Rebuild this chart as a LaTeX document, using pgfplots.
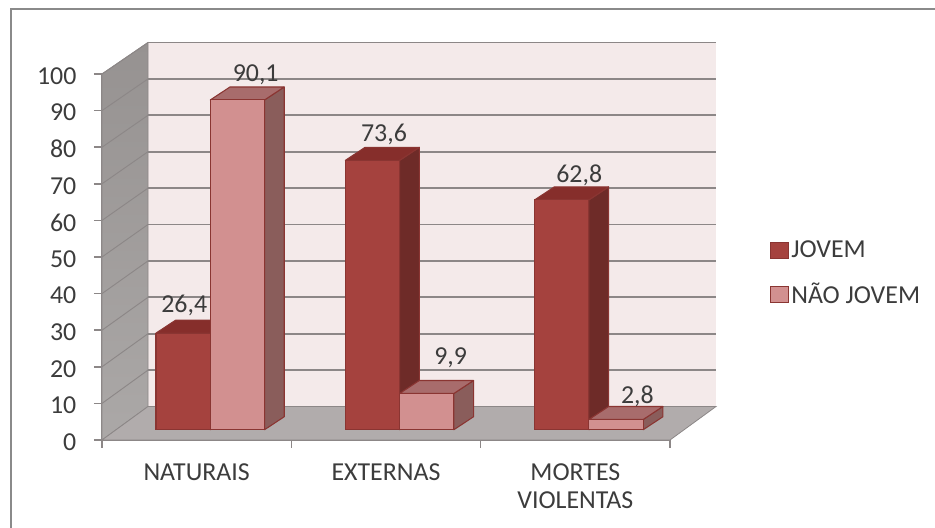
\documentclass[border=0pt]{standalone}
\usepackage{pgfplots}
\usepackage{pgfplotstable}
\usepackage{fontspec}
\setmainfont{Carlito}
\pgfplotsset{compat=1.18}

\definecolor{jovemfront}{HTML}{A5423E}
\definecolor{jovemside}{HTML}{6E2B28}
\definecolor{jovemtop}{HTML}{862E2B}
\definecolor{naofront}{HTML}{D29090}
\definecolor{naoside}{HTML}{8A5D5B}
\definecolor{naotop}{HTML}{A86C6C}
\definecolor{edgej}{HTML}{8A3532}
\definecolor{wallback}{HTML}{F4EAEA}
\definecolor{floorc}{HTML}{B1ACAC}
\definecolor{walltop}{HTML}{969291}
\definecolor{wallbottom}{HTML}{ABA8A7}
\definecolor{gridc}{HTML}{8C8787}
\definecolor{inkc}{HTML}{3C3C3C}
\definecolor{framec}{HTML}{8A8A8A}

% values per cause of death
\pgfplotstableread{
x    jovem naojovem
0.5  26.4  90.1
1.5  73.6  9.9
2.5  62.8  2.8
}\causes

% value labels: position of the bar and offset of the label in pt
\pgfplotstableread{
x      v     dx    dy
0.3563 26.4  11.1  28.8
0.6437 90.1  23.85 26.4
1.3563 73.6  18.9  26.9
1.6437 9.9   28.1  34.35
2.3563 62.8  23.3  26.3
2.6437 2.8   26.1  25.35
}\valuelabels

\newcommand{\labelfont}{\fontsize{19.4}{21}\selectfont\color{inkc}}

% side and top faces of one bar: left x, right x, value, side colour, top colour
\newcommand{\barfaces}[5]{%
  \pgfmathsetmacro\xdepth{#2+0.104}%
  \pgfmathsetmacro\xleftd{#1+0.104}%
  \pgfmathsetmacro\vdepth{#3+3.55}%
  \edef\faces{%
    \noexpand\addplot[forget plot,face] [fill=#4] coordinates {(#2,0)(\xdepth,3.55)(\xdepth,\vdepth)(#2,#3)} --cycle;
    \noexpand\addplot[forget plot,face] [fill=#5] coordinates {(#1,#3)(\xleftd,\vdepth)(\xdepth,\vdepth)(#2,#3)} --cycle;
  }\faces
}
% one gridline across both walls: value, height on the back wall
\newcommand{\wallline}[2]{%
  \addplot[forget plot,draw=gridc,line width=0.7pt] coordinates {(0,#1)(0.243,#2)};
  \addplot[forget plot,draw=gridc,line width=1.35pt] coordinates {(0.243,#2)(3.243,#2)};
}

\begin{document}
\begin{tikzpicture}
\draw[framec,line width=1.4pt] (-68.25pt,-70pt) -- (-68.25pt,323.25pt) -- (630pt,323.25pt);
\begin{axis}[
  scale only axis, width=426pt, height=274.5pt,
  at={(0pt,0pt)}, anchor=south west,
  xmin=0, xmax=3, ymin=0, ymax=100,
  clip=false,
  axis lines*=left,
  axis line style={draw=gridc,line width=1.2pt,-},
  tick style={draw=gridc,line width=1.1pt},
  tick align=outside,
  ytick={0,10,...,100},
  xtick={0.5,1.5,2.5},
  xticklabels={NATURAIS,EXTERNAS,{MORTES\\VIOLENTAS}},
  minor xtick={0,1,2,3},
  major x tick style={draw=none},
  major tick length=6pt, minor tick length=6pt,
  /pgf/number format/assume math mode=true,
  yticklabel style={font=\labelfont,anchor=east,xshift=-9.7pt,yshift=-1.5pt},
  xticklabel style={font=\labelfont,align=center,anchor=north,yshift=-8.5pt},
  face/.style={draw=edgej,line width=0.8pt,line join=round,xshift=10.2pt,yshift=7.7pt},
  legend style={at={(1.176,0.455)},anchor=west,draw=none,fill=none,font=\labelfont,row sep=13.5pt,inner sep=0pt},
  legend cell align=left,
]
\addlegendimage{legend image code/.code={\draw[draw=edgej,fill=jovemfront,line width=0.8pt] (0pt,-6pt) rectangle (13pt,6pt);}}
\addlegendentry{JOVEM}
\addlegendimage{legend image code/.code={\draw[draw=edgej,fill=naofront,line width=0.8pt] (0pt,-6pt) rectangle (13pt,6pt);}}
\addlegendentry{NÃO JOVEM}

% walls and floor
\addplot[forget plot,fill=wallback,draw=none] coordinates {(0.243,9.15)(3.243,9.15)(3.243,108.6)(0.243,108.6)} --cycle;
\addplot[forget plot,top color=walltop,bottom color=wallbottom,draw=gridc,line width=0.6pt] coordinates {(0,0)(0.243,9.15)(0.243,108.6)(0,100)} --cycle;
\addplot[forget plot,fill=floorc,draw=gridc,line width=0.6pt] coordinates {(0,0)(3,0)(3.243,9.15)(0.243,9.15)} --cycle;
\wallline{10}{19.1}
\wallline{20}{29.04}
\wallline{30}{38.99}
\wallline{40}{48.93}
\wallline{50}{58.88}
\wallline{60}{68.82}
\wallline{70}{78.77}
\wallline{80}{88.71}
\wallline{90}{98.66}
\wallline{100}{108.6}

% first series
\barfaces{0.2134}{0.5}{26.4}{jovemside}{jovemtop}
\barfaces{1.2134}{1.5}{73.6}{jovemside}{jovemtop}
\barfaces{2.2134}{2.5}{62.8}{jovemside}{jovemtop}
\addplot[forget plot,ybar,bar width=40.7pt,bar shift=-20.35pt,fill=jovemfront,draw=edgej,line width=0.8pt,xshift=10.2pt,yshift=7.7pt]
  table[x=x,y=jovem] {\causes};

% second series
\barfaces{0.5}{0.7866}{90.1}{naoside}{naotop}
\barfaces{1.5}{1.7866}{9.9}{naoside}{naotop}
\barfaces{2.5}{2.7866}{2.8}{naoside}{naotop}
\addplot[forget plot,ybar,bar width=40.7pt,bar shift=20.35pt,fill=naofront,draw=edgej,line width=0.8pt,xshift=10.2pt,yshift=7.7pt]
  table[x=x,y=naojovem] {\causes};

% value labels
\addplot[forget plot,only marks,mark=none,
  visualization depends on=\thisrow{dx} \as \labeldx,
  visualization depends on=\thisrow{dy} \as \labeldy,
  point meta=explicit,
  nodes near coords,
  nodes near coords align={anchor=center},
  every node near coord/.append style={font=\labelfont,xshift=\labeldx pt,yshift=\labeldy pt,inner sep=0pt,
    /pgf/number format/.cd,fixed,fixed zerofill,precision=1,use comma,assume math mode=true},
] table[x=x,y=v,meta=v] {\valuelabels};
\end{axis}
\pgfresetboundingbox
\path[use as bounding box] (-76.5pt,-66pt) rectangle (624.75pt,330pt);
\end{tikzpicture}
\end{document}
